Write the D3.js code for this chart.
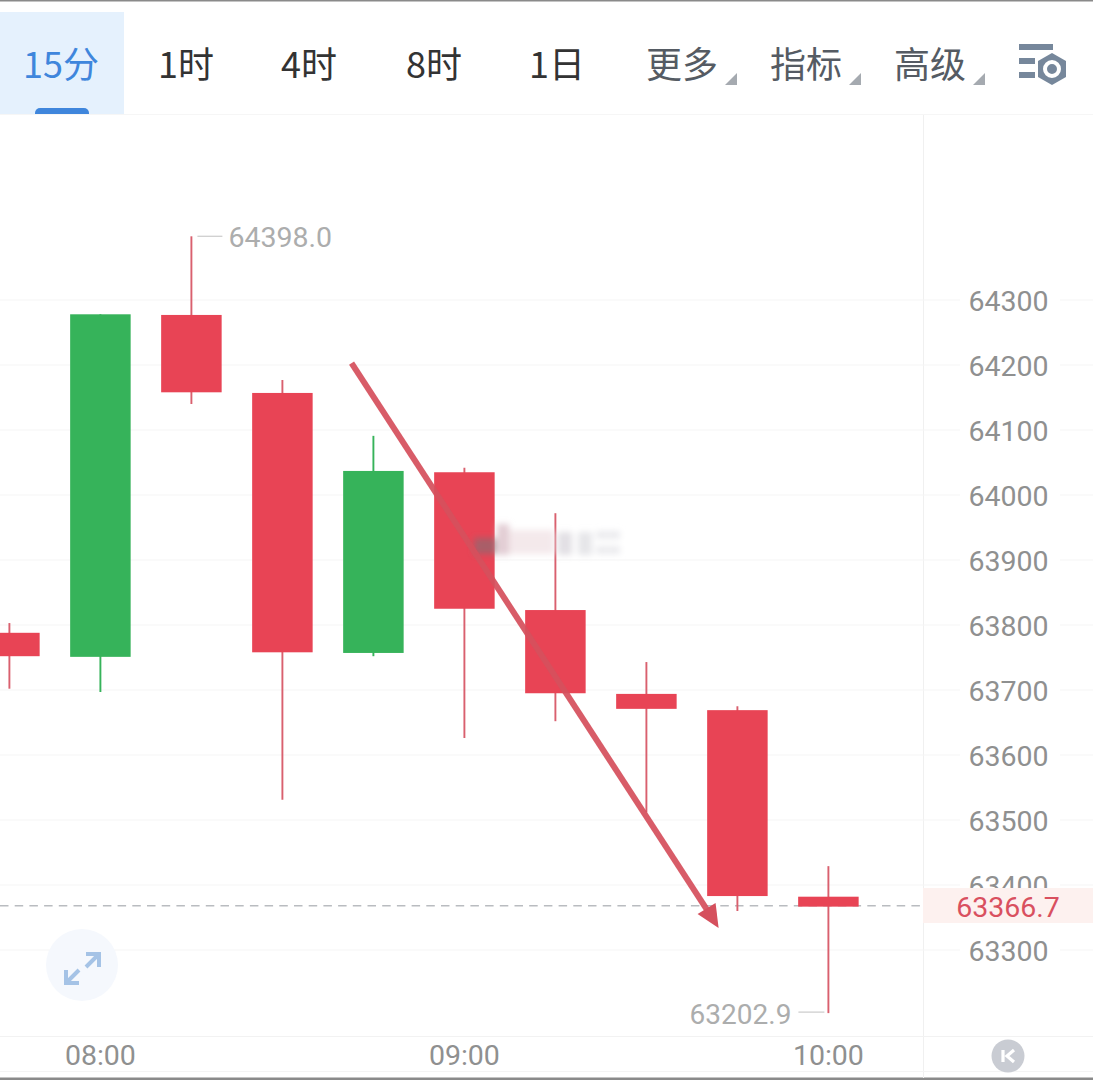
<!DOCTYPE html>
<html lang="zh">
<head>
<meta charset="utf-8">
<script src="https://cdn.jsdelivr.net/npm/d3@7/dist/d3.min.js"></script>
<style>
html,body{margin:0;padding:0;background:#fff;overflow:hidden}
svg{display:block}
text{font-family:Roboto,"Noto Sans",sans-serif}
.cjk{font-family:"Noto Sans CJK SC",sans-serif}
</style>
</head>
<body>
<svg id="c" width="1093" height="1080"></svg>
<script>
// Minutes are counted from 08:00
const minutes = [-15, 0, 15, 30, 45, 60, 75, 90, 105, 120];
const opens  = [63788, 63751, 64277, 64157, 63757, 64035, 63823, 63694, 63669, 63382];
const closes = [63752, 64278, 64158, 63758, 64037, 63825, 63695, 63671, 63383, 63366.7];
const highs  = [63803, 64278, 64398, 64177, 64091, 64042, 63972, 63743, 63675, 63429];
const lows   = [63702, 63697, 64140, 63531, 63752, 63626, 63652, 63512, 63360, 63202.9];
const priceTicks = [64300, 64200, 64100, 64000, 63900, 63800, 63700, 63600, 63500, 63400, 63300];
const timeTicks = [0, 60, 120];
const timeLabels = ["08:00", "09:00", "10:00"];
const tabs = ["15分", "1时", "4时", "8时", "1日", "更多", "指标", "高级"];
const lastPrice = 63366.7;
const highLabel = "64398.0";
const lowLabel = "63202.9";
const arrowMinutes = [41.4, 101.9];
const arrowPrices = [64203, 63334];

const svg = d3.select("#c");
const x = d3.scaleLinear().domain([0, 120]).range([100.4, 828.4]);
const y = d3.scaleLinear().domain([63300, 64300]).range([950, 300]);
const RED = "#e84455", GREEN = "#36b35a", GREY = "#8f9090";

// frame
svg.append("rect").attr("x",0).attr("y",0).attr("width",1093).attr("height",1.5).attr("fill","#8a8a8a");
svg.append("rect").attr("x",0).attr("y",1077.5).attr("width",1093).attr("height",2.5).attr("fill","#8a8a8a");
svg.append("line").attr("x1",0).attr("x2",1093).attr("y1",114.5).attr("y2",114.5).attr("stroke","#f6f6f6");
svg.append("line").attr("x1",923.5).attr("x2",923.5).attr("y1",115).attr("y2",1078).attr("stroke","#f0f0f0");
svg.append("line").attr("x1",0).attr("x2",1093).attr("y1",1036.5).attr("y2",1036.5).attr("stroke","#f2f2f2");
svg.append("line").attr("x1",0).attr("x2",1093).attr("y1",1071.5).attr("y2",1071.5).attr("stroke","#f4f4f4");

// tabs
svg.append("rect").attr("x",0).attr("y",12).attr("width",124).attr("height",102).attr("fill","#e5f1fd");
svg.append("path").attr("d","M35,114V113a5,5 0 0 1 5,-5H84a5,5 0 0 1 5,5V114Z").attr("fill","#3f86dc");
const tabX = [61, 186, 309, 434, 557, 682, 806, 930];
const tabFill = ["#3f86dc","#333","#333","#333","#333","#555b63","#555b63","#555b63"];
svg.selectAll("text.tab").data(tabs).join("text").attr("class","tab cjk")
  .attr("x",(d,i)=>tabX[i]).attr("y",78).attr("text-anchor","middle")
  .attr("font-size",36).attr("fill",(d,i)=>tabFill[i]).text(d=>d);
[737, 861, 985].forEach(a=>{
  svg.append("path").attr("d",`M${a-12},85H${a}V73Z`).attr("fill","#a5aab0");
});
// settings icon
const ic = svg.append("g").attr("fill","#76879b");
ic.append("rect").attr("x",1019).attr("y",44).attr("width",34).attr("height",6);
ic.append("rect").attr("x",1019).attr("y",58).attr("width",16).attr("height",6);
ic.append("rect").attr("x",1019).attr("y",72).attr("width",16).attr("height",6);
ic.append("path").attr("d","M1052,53L1066,61V77L1052,85L1038,77V61Z");
svg.append("circle").attr("cx",1052).attr("cy",69).attr("r",7).attr("fill","none").attr("stroke","#fff").attr("stroke-width",4);

// grid
svg.append("g").selectAll("line").data(priceTicks).join("line")
  .attr("x1",0).attr("x2",960).attr("y1",d=>y(d)).attr("y2",d=>y(d)).attr("stroke","#f5f5f5");
svg.append("g").selectAll("line").data(priceTicks).join("line")
  .attr("x1",1060).attr("x2",1093).attr("y1",d=>y(d)).attr("y2",d=>y(d)).attr("stroke","#f5f5f5");

// price labels
svg.append("g").selectAll("text").data(priceTicks).join("text")
  .attr("x",1008.5).attr("y",d=>y(d)+10.5).attr("text-anchor","middle")
  .attr("font-size",28.5).attr("fill",GREY).text(d=>d);

// last price
svg.append("line").attr("x1",0).attr("x2",923).attr("y1",y(lastPrice)-1).attr("y2",y(lastPrice)-1)
  .attr("stroke","#b9bcc0").attr("stroke-width",1.5).attr("stroke-dasharray","8.5 6.2");
svg.append("rect").attr("x",923).attr("y",888).attr("width",170).attr("height",35).attr("fill","#fdf1ef");
svg.append("text").attr("x",1008).attr("y",y(lastPrice)+10).attr("text-anchor","middle")
  .attr("font-size",28.5).attr("fill","#d9505f").text(lastPrice);

// candles
const up = i => closes[i] >= opens[i];
const color = i => up(i) ? GREEN : "#d9606e";
const W = 60.5;
svg.append("g").selectAll("line").data(minutes).join("line")
  .attr("x1",d=>x(d)).attr("x2",d=>x(d))
  .attr("y1",(d,i)=>y(highs[i])).attr("y2",(d,i)=>y(lows[i]))
  .attr("stroke",(d,i)=>color(i)).attr("stroke-width",1.9);
svg.append("g").selectAll("rect").data(minutes).join("rect")
  .attr("x",d=>x(d)-W/2).attr("width",W)
  .attr("y",(d,i)=>y(Math.max(opens[i],closes[i])))
  .attr("height",(d,i)=>Math.abs(y(opens[i])-y(closes[i])))
  .attr("fill",(d,i)=>up(i) ? GREEN : RED);

// high / low labels
const iH = highs.indexOf(d3.max(highs)), iL = lows.indexOf(d3.min(lows));
svg.append("line").attr("x1",x(minutes[iH])+6).attr("x2",x(minutes[iH])+31)
  .attr("y1",y(highs[iH])).attr("y2",y(highs[iH])).attr("stroke","#cfcfcf").attr("stroke-width",1.3);
svg.append("text").attr("x",x(minutes[iH])+37).attr("y",y(highs[iH])+11)
  .attr("font-size",28.5).attr("fill","#acadad").text(highLabel);
svg.append("line").attr("x1",x(minutes[iL])-30).attr("x2",x(minutes[iL])-4)
  .attr("y1",y(lows[iL])-1).attr("y2",y(lows[iL])-1).attr("stroke","#cfcfcf").attr("stroke-width",1.3);
svg.append("text").attr("x",x(minutes[iL])-37).attr("y",y(lows[iL])+11).attr("text-anchor","end")
  .attr("font-size",28).attr("fill","#acadad").text(lowLabel);

// time labels
svg.append("g").selectAll("text").data(timeTicks).join("text")
  .attr("x",d=>x(d)).attr("y",1065).attr("text-anchor","middle")
  .attr("font-size",28.5).attr("fill",GREY).text((d,i)=>timeLabels[i]);

// blurred watermark
const defs = svg.append("defs");
defs.append("filter").attr("id","b").attr("x","-30%").attr("y","-50%").attr("width","160%").attr("height","200%")
  .append("feGaussianBlur").attr("stdDeviation",3);
const wm = svg.append("g").attr("filter","url(#b)");
wm.append("rect").attr("x",474).attr("y",538).attr("width",22).attr("height",16).attr("fill","#8d6870").attr("opacity",.7);
wm.append("rect").attr("x",497).attr("y",524).attr("width",12).attr("height",31).attr("fill","#d8bcc6").attr("opacity",.75);
wm.append("rect").attr("x",509).attr("y",530).attr("width",45).attr("height",24).attr("fill","#f0dfe3").attr("opacity",.7);
wm.append("rect").attr("x",558).attr("y",532).attr("width",14).attr("height",23).attr("fill","#d5d2d8").attr("opacity",.7);
wm.append("rect").attr("x",578).attr("y",532).attr("width",14).attr("height",23).attr("fill","#dcdce0").attr("opacity",.7);
wm.append("rect").attr("x",596).attr("y",531).attr("width",24).attr("height",8).attr("fill","#e6e6ea").attr("opacity",.8);
wm.append("rect").attr("x",596).attr("y",546).attr("width",24).attr("height",8).attr("fill","#e6e6ea").attr("opacity",.8);

// arrow annotation
const ax1 = x(arrowMinutes[0]), ay1 = y(arrowPrices[0]), ax2 = x(arrowMinutes[1]), ay2 = y(arrowPrices[1]);
svg.append("line").attr("x1",ax1).attr("y1",ay1).attr("x2",ax2-7).attr("y2",ay2-11)
  .attr("stroke","#d5505d").attr("stroke-width",6).attr("stroke-opacity",.93);
svg.append("path").attr("d",`M${ax2},${ay2}L${ax2-21},${ay2-14}L${ax2-3},${ay2-25}Z`).attr("fill","#d5505d");

// expand button
svg.append("circle").attr("cx",82).attr("cy",965).attr("r",36).attr("fill","#f5f8fd");
svg.append("path").attr("d","M86,954H99V967M98,955L86,967M66,970V983H79M67,982L79,970")
  .attr("fill","none").attr("stroke","#a5c3e6").attr("stroke-width",4);

// K button
svg.append("circle").attr("cx",1008).attr("cy",1056).attr("r",16.5).attr("fill","#c9ccd3");
svg.append("path").attr("d","M1003,1050V1062M1014,1050L1007,1056L1014,1062")
  .attr("fill","none").attr("stroke","#fff").attr("stroke-width",3.2);
</script>
</body>
</html>
